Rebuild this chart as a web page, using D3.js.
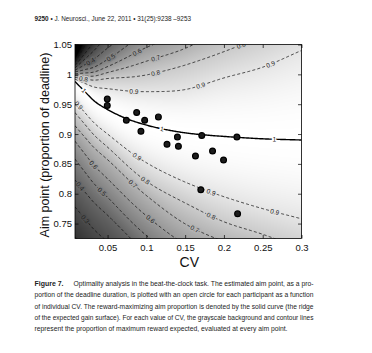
<!DOCTYPE html>
<html><head><meta charset="utf-8">
<script src="https://cdn.jsdelivr.net/npm/d3@7"></script>
<style>body{margin:0;background:#fff}svg{display:block}</style>
</head><body>
<svg id="fig" width="372" height="353"></svg>
<script>
// ---------------- data ----------------
const xTickVals = [0.05, 0.1, 0.15, 0.2, 0.25, 0.3];
const xTickLabels = ["0.05", "0.1", "0.15", "0.2", "0.25", "0.3"];
const yTickVals = [0.75, 0.8, 0.85, 0.9, 0.95, 1, 1.05];
const yTickLabels = ["0.75", "0.8", "0.85", "0.9", "0.95", "1", "1.05"];

// participants: CV and estimated aim point
const pointCV  = [0.0496, 0.0496, 0.0742, 0.0875, 0.0978, 0.0930, 0.1155, 0.1266, 0.1400, 0.1413, 0.1714, 0.1633, 0.1853, 0.1995, 0.2167, 0.1702, 0.2176];
const pointAim = [0.9585, 0.9480, 0.9232, 0.9360, 0.9230, 0.9047, 0.9287, 0.8829, 0.8951, 0.8795, 0.8975, 0.8632, 0.8716, 0.8565, 0.8951, 0.8067, 0.7664];

// reward-maximizing aim (ridge, solid curve)
const ridgeCV  = [0.008, 0.020, 0.0332, 0.050, 0.074, 0.100, 0.119, 0.150, 0.171, 0.200, 0.250, 0.300];
const ridgeAim = [0.988, 0.972, 0.955, 0.941, 0.926, 0.915, 0.909, 0.902, 0.899, 0.896, 0.892, 0.890];
const ridgeLabelCV = [0.0195, 0.12, 0.265];

// expected-gain surface: distance of each contour level from the ridge, per CV column
const surfaceCV = [0.008, 0.05, 0.1, 0.15, 0.2, 0.25, 0.3];
const contourLevels = [0.9, 0.8, 0.7, 0.6, 0.5, 0.4, 0.3, 0.2, 0.1];
const offsetAbove = [
  [0.004, 0.035, 0.056, 0.0725, 0.098, 0.120, 0.150],
  [0.007, 0.052, 0.084, 0.1135, 0.142, 0.172, 0.205],
  [0.010, 0.062, 0.107, 0.1415, 0.180, 0.210, 0.240],
  [0.013, 0.072, 0.130, 0.168, 0.205, 0.235, 0.265],
  [0.016, 0.084, 0.155, 0.190, 0.230, 0.260, 0.290],
  [0.019, 0.103, 0.175, 0.210, 0.250, 0.280, 0.310],
  [0.023, 0.123, 0.195, 0.230, 0.270, 0.300, 0.330],
  [0.027, 0.143, 0.215, 0.250, 0.290, 0.320, 0.350],
  [0.033, 0.170, 0.245, 0.280, 0.320, 0.350, 0.380]
];
const offsetBelow = [
  [0.033, 0.041, 0.063, 0.0825, 0.101, 0.117, 0.132],
  [0.052, 0.063, 0.094, 0.1175, 0.143, 0.160, 0.182],
  [0.074, 0.084, 0.118, 0.1525, 0.176, 0.192, 0.220],
  [0.100, 0.116, 0.152, 0.1865, 0.206, 0.227, 0.260],
  [0.130, 0.147, 0.185, 0.220, 0.245, 0.265, 0.300],
  [0.165, 0.177, 0.215, 0.260, 0.285, 0.305, 0.340],
  [0.210, 0.222, 0.260, 0.300, 0.330, 0.350, 0.390],
  [0.260, 0.280, 0.310, 0.350, 0.380, 0.400, 0.440],
  [0.330, 0.350, 0.380, 0.420, 0.450, 0.470, 0.510]
];
// contour labels
const labelLevel = [0.9, 0.9, 0.9, 0.8, 0.8, 0.8, 0.7, 0.6, 0.5, 0.4,
                    0.9, 0.9, 0.9, 0.9, 0.8, 0.8, 0.7, 0.7, 0.6, 0.6, 0.5, 0.4, 0.3];
const labelCV    = [0.084, 0.170, 0.260, 0.019, 0.112, 0.222, 0.112, 0.088, 0.054, 0.028,
                    0.0126, 0.0879, 0.1834, 0.2654, 0.0987, 0.1834, 0.0827, 0.1624, 0.0319, 0.1052, 0.0426, 0.0147, 0.0212];
const labelSide  = ["a","a","a","a","a","a","a","a","a","a",
                    "b","b","b","b","b","b","b","b","b","b","b","b","b"];

const headerText = "J. Neurosci., June 22, 2011 \u2022 31(25):9238 \u20139253";
const captionLines = [
  "Optimality analysis in the beat-the-clock task. The estimated aim point, as a pro-",
  "portion of the deadline duration, is plotted with an open circle for each participant as a function",
  "of individual CV. The reward-maximizing aim proportion is denoted by the solid curve (the ridge",
  "of the expected gain surface). For each value of CV, the grayscale background and contour lines",
  "represent the proportion of maximum reward expected, evaluated at every aim point."
];

// ---------------- helpers ----------------
function monotone(xs, ys) {
  const n = xs.length, dx = [], s = [];
  for (let i = 0; i < n - 1; i++) { dx[i] = xs[i+1] - xs[i]; s[i] = (ys[i+1] - ys[i]) / dx[i]; }
  const t = new Array(n);
  t[0] = s[0]; t[n-1] = s[n-2];
  for (let i = 1; i < n - 1; i++) t[i] = (s[i-1] * s[i] <= 0) ? 0 : (s[i-1] + s[i]) / 2;
  for (let i = 0; i < n - 1; i++) {
    if (s[i] === 0) { t[i] = t[i+1] = 0; continue; }
    const a = t[i] / s[i], b = t[i+1] / s[i], h = a*a + b*b;
    if (h > 9) { const k = 3 / Math.sqrt(h); t[i] = k*a*s[i]; t[i+1] = k*b*s[i]; }
  }
  return function(v) {
    v = Math.max(xs[0], Math.min(xs[n-1], v));
    let i = Math.min(n - 2, Math.max(0, d3.bisectRight(xs, v) - 1));
    const h = dx[i], u = (v - xs[i]) / h, u2 = u*u, u3 = u2*u;
    return (2*u3 - 3*u2 + 1)*ys[i] + (u3 - 2*u2 + u)*h*t[i] + (-2*u3 + 3*u2)*ys[i+1] + (u3 - u2)*h*t[i+1];
  };
}
const ridgeF = monotone(ridgeCV, ridgeAim);
const aboveF = offsetAbove.map(r => monotone(surfaceCV, r));
const belowF = offsetBelow.map(r => monotone(surfaceCV, r));

function gain(c, a) {
  const r = ridgeF(c), d = a - r, dd = Math.abs(d);
  const fs = d >= 0 ? aboveF : belowF;
  const offs = fs.map(f => f(c));
  if (dd <= offs[0]) { const u = dd / offs[0]; return 1 - (1 - contourLevels[0]) * u * u; }
  for (let i = 1; i < contourLevels.length; i++) {
    if (dd <= offs[i]) {
      return contourLevels[i-1] + (contourLevels[i] - contourLevels[i-1]) * (dd - offs[i-1]) / (offs[i] - offs[i-1]);
    }
  }
  const n = contourLevels.length;
  const slope = (contourLevels[n-1] - contourLevels[n-2]) / (offs[n-1] - offs[n-2]);
  return Math.max(0, contourLevels[n-1] + slope * (dd - offs[n-1]));
}
function contourAim(level, c, side) {
  const i = contourLevels.indexOf(level);
  return side === "a" ? ridgeF(c) + aboveF[i](c) : ridgeF(c) - belowF[i](c);
}

// ---------------- layout ----------------
const svg = d3.select("#fig");
const P = {left: 75, right: 301.5, top: 44.5, bottom: 238.5};
const x = d3.scaleLinear().domain([0.008, 0.3]).range([P.left, P.right]);
const y = d3.scaleLinear().domain([0.725, 1.05]).range([P.bottom, P.top]);
const grayScale = d3.scaleLinear().domain([0, 1]).range([0, 255]).clamp(true);
const FONT = "'Liberation Sans', Arial, Helvetica, sans-serif";

svg.append("rect").attr("width", 372).attr("height", 353).attr("fill", "#fff");

// header
const hdr = svg.append("text").attr("x", 34.5).attr("y", 20.5)
  .attr("font-family", "'Liberation Sans Narrow', 'Liberation Sans', sans-serif").attr("font-size", 7)
  .attr("fill", "#222").attr("textLength", 156.5).attr("lengthAdjust", "spacingAndGlyphs");
hdr.append("tspan").attr("font-weight", "bold").text("9250");
hdr.append("tspan").text(" \u2022 " + headerText);

// clip
svg.append("defs").append("clipPath").attr("id", "plotclip")
  .append("rect").attr("x", P.left).attr("y", P.top).attr("width", P.right - P.left).attr("height", P.bottom - P.top);

// background surface
const pw = Math.round(P.right - P.left), ph = Math.round(P.bottom - P.top);
const SS = 2;
const canvas = document.createElement("canvas");
canvas.width = pw * SS; canvas.height = ph * SS;
const ctx = canvas.getContext("2d");
const img = ctx.createImageData(canvas.width, canvas.height);
for (let j = 0; j < canvas.height; j++) {
  const a = y.invert(P.top + (j + 0.5) / SS);
  for (let i = 0; i < canvas.width; i++) {
    const c = x.invert(P.left + (i + 0.5) / SS);
    const g = Math.round(grayScale(gain(c, a)));
    const k = (j * canvas.width + i) * 4;
    img.data[k] = g; img.data[k+1] = g; img.data[k+2] = g; img.data[k+3] = 255;
  }
}
ctx.putImageData(img, 0, 0);
svg.append("image").attr("x", P.left).attr("y", P.top).attr("width", P.right - P.left).attr("height", P.bottom - P.top)
  .attr("preserveAspectRatio", "none").attr("href", canvas.toDataURL());

const plot = svg.append("g").attr("clip-path", "url(#plotclip)");
const cvSamples = d3.range(0, 241).map(i => 0.008 + (0.3 - 0.008) * i / 240);
const line = d3.line().x(d => x(d[0])).y(d => y(d[1]));

// contour lines
contourLevels.forEach(lv => {
  ["a", "b"].forEach(side => {
    plot.append("path")
      .attr("d", line(cvSamples.map(c => [c, contourAim(lv, c, side)])))
      .attr("fill", "none").attr("stroke", "#111").attr("stroke-width", 0.75)
      .attr("stroke-dasharray", "3,2.2");
  });
});

// ridge
plot.append("path").attr("d", line(cvSamples.map(c => [c, ridgeF(c)])))
  .attr("fill", "none").attr("stroke", "#000").attr("stroke-width", 1.4);

function angleAt(fn, c) {
  const c1 = c - 0.003, c2 = c + 0.003;
  return Math.atan2(y(fn(c2)) - y(fn(c1)), x(c2) - x(c1)) * 180 / Math.PI;
}
// contour labels
labelLevel.forEach((lv, i) => {
  const c = labelCV[i], side = labelSide[i];
  const fn = cc => contourAim(lv, cc, side);
  const px = x(c), py = y(fn(c)), ang = angleAt(fn, c);
  const g = Math.round(grayScale(lv));
  plot.append("text").attr("transform", `translate(${px},${py}) rotate(${ang})`)
    .attr("text-anchor", "middle").attr("dy", "0.35em")
    .attr("font-family", FONT).attr("font-size", 6.5).attr("fill", "#222")
    .attr("stroke", `rgb(${g},${g},${g})`).attr("stroke-width", 2.6).attr("paint-order", "stroke")
    .text(d3.format(".1f")(lv));
});
// ridge labels
ridgeLabelCV.forEach(c => {
  const px = x(c), py = y(ridgeF(c)), ang = angleAt(ridgeF, c);
  plot.append("text").attr("transform", `translate(${px},${py}) rotate(${ang})`)
    .attr("text-anchor", "middle").attr("dy", "0.35em")
    .attr("font-family", FONT).attr("font-size", 6.5).attr("fill", "#222")
    .attr("stroke", "#fff").attr("stroke-width", 2.6).attr("paint-order", "stroke")
    .text("1");
});

// participants
plot.selectAll("circle.pt").data(pointCV).join("circle").attr("class", "pt")
  .attr("cx", (d, i) => x(d)).attr("cy", (d, i) => y(pointAim[i])).attr("r", 2.9)
  .attr("fill", "#1c1c1c").attr("stroke", "#000").attr("stroke-width", 1.2);

// axes (ticks inward, box)
const tk = 3.5;
const fmtX = (d, i) => xTickLabels[i], fmtY = (d, i) => yTickLabels[i];
const axB = svg.append("g").attr("transform", `translate(0,${P.bottom})`)
  .call(d3.axisBottom(x).tickValues(xTickVals).tickFormat(fmtX).tickSize(-tk).tickPadding(6));
const axL = svg.append("g").attr("transform", `translate(${P.left},0)`)
  .call(d3.axisLeft(y).tickValues(yTickVals).tickFormat(fmtY).tickSize(-tk).tickPadding(3));
const axT = svg.append("g").attr("transform", `translate(0,${P.top})`)
  .call(d3.axisTop(x).tickValues(xTickVals).tickFormat("").tickSize(-tk));
const axR = svg.append("g").attr("transform", `translate(${P.right},0)`)
  .call(d3.axisRight(y).tickValues(yTickVals).tickFormat("").tickSize(-tk));
[axB, axL, axT, axR].forEach(a => {
  a.select(".domain").remove();
  a.selectAll("line").attr("stroke", "#000").attr("stroke-width", 0.7);
  a.selectAll("text").attr("font-family", FONT).attr("font-size", 9.5).attr("fill", "#111");
});
svg.append("rect").attr("x", P.left).attr("y", P.top).attr("width", P.right - P.left).attr("height", P.bottom - P.top)
  .attr("fill", "none").attr("stroke", "#000").attr("stroke-width", 0.8);

// axis titles
svg.append("text").attr("x", (P.left + P.right) / 2 + 1).attr("y", 267)
  .attr("text-anchor", "middle").attr("font-family", FONT).attr("font-size", 14).attr("fill", "#111").text("CV");
svg.append("text").attr("transform", "translate(49,145) rotate(-90)")
  .attr("text-anchor", "middle").attr("font-family", FONT).attr("font-size", 12.5).attr("fill", "#111")
  .text("Aim point (proportion of deadline)");

// caption
const capFont = "'Liberation Sans Narrow', 'Liberation Sans', sans-serif";
const capX = 34.5, capY0 = 286, capDY = 11.35;
const capLen = [240, 279, 279, 279, 253];
svg.append("text").attr("x", capX).attr("y", capY0).attr("font-family", capFont).attr("font-weight", "bold")
  .attr("font-size", 7.6).attr("fill", "#222").attr("textLength", 29).attr("lengthAdjust", "spacingAndGlyphs")
  .text("Figure 7.");
captionLines.forEach((t, i) => {
  svg.append("text").attr("x", i === 0 ? 73.5 : capX).attr("y", capY0 + i * capDY)
    .attr("font-family", capFont).attr("font-size", 7.6).attr("fill", "#222")
    .attr("textLength", capLen[i]).attr("lengthAdjust", "spacingAndGlyphs").text(t);
});
</script>
</body></html>
